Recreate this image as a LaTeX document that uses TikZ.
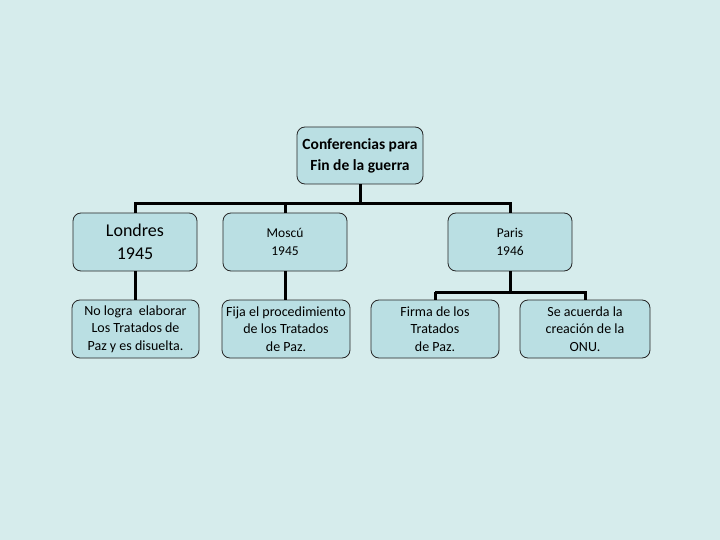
\documentclass[tikz,border=0pt]{standalone}
\usepackage{fontspec}
\setmainfont{Carlito}
\begin{document}
\begin{tikzpicture}[x=1pt,y=-1pt,
  box/.style={draw=black!85, line width=0.8pt, fill=boxfill, rounded corners=8pt,
    align=center, inner sep=0pt},
  conn/.style={line width=3pt, black}]
\definecolor{bgc}{RGB}{214,236,236}
\definecolor{boxfill}{RGB}{186,223,227}
\fill[bgc] (0,0) rectangle (720,540);
\useasboundingbox (0,0) rectangle (720,540);
% nodes
\node[box, minimum width=126pt, minimum height=57pt, font=\bfseries\fontsize{15.5}{21}\selectfont] (top) at (360,155.5) {Conferencias para\\Fin de la guerra};
\node[box, minimum width=124pt, minimum height=58pt, font=\fontsize{18}{23}\selectfont] (lon) at (135,242) {Londres\\1945};
\node[box, minimum width=124pt, minimum height=58pt, font=\fontsize{13.5}{18}\selectfont] (mos) at (285,242) {Moscú\\1945};
\node[box, minimum width=124pt, minimum height=58pt, font=\fontsize{13.5}{18}\selectfont] (par) at (510,242) {Paris\\1946};
\node[box, minimum width=127pt, minimum height=58pt, font=\fontsize{14}{17.5}\selectfont] (b1) at (135.5,329) {No logra\ \ elaborar\\Los Tratados de\\Paz y es disuelta.};
\node[box, minimum width=128pt, minimum height=58pt, font=\fontsize{14}{17.5}\selectfont] (b2) at (286,329) {Fija el procedimiento\\de los Tratados\\de Paz.};
\node[box, minimum width=128pt, minimum height=58pt, font=\fontsize{14}{17.5}\selectfont] (b3) at (435,329) {Firma de los\\Tratados\\de Paz.};
\node[box, minimum width=130pt, minimum height=58pt, font=\fontsize{14}{17.5}\selectfont] (b4) at (585,329) {Se acuerda la\\creación de la\\ONU.};
% connectors
\coordinate (h1) at (360,204);
\coordinate (h2) at (435,292);
\draw[conn] (top.south) -- (h1) -| (lon.north);
\draw[conn] (h1) -| (par.north);
\draw[conn] (mos.north |- h1) -- (mos.north);
\draw[conn] (lon.south) -- (b1.north -| lon.south);
\draw[conn] (mos.south) -- (mos.south |- b2.north);
\draw[conn] (par.south) -- (par.south |- h2);
\draw[conn] (b3.north |- h2) -| (b4.north);
\draw[conn] (b3.north |- h2) -- (b3.north);
\end{tikzpicture}
\end{document}
